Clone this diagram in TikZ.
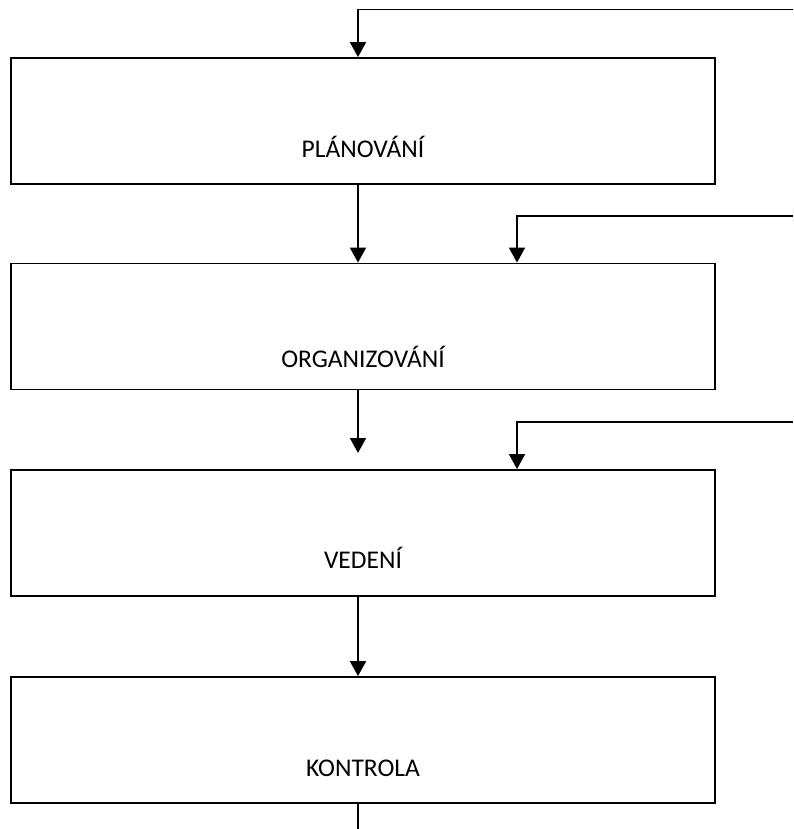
\documentclass[tikz,border=0pt]{standalone}
\usepackage{fontspec}
\setmainfont{Carlito}
\usetikzlibrary{arrows.meta,calc}

\begin{document}
\begin{tikzpicture}[
    x=1pt,y=-1pt,
    box/.style = { draw,line width=1.8pt,minimum width=704pt,minimum height=126pt,inner sep=0pt },
    lbl/.style = { anchor=base,font=\fontsize{25.5}{30}\selectfont },
    arrowstyle/.style = { -{Triangle[width=16pt,length=15pt]},line width=1.8pt }
    ]
    \useasboundingbox (0,0) rectangle (793,829);
    % Definitions
    \coordinate (plc)  at (363,121);
    \coordinate (orc)  at (363,326.5);
    \coordinate (vec)  at (363,533);
    \coordinate (koc)  at (363,740);
    \coordinate (in1)  at (793,9.5);
    \coordinate (in2)  at (793,216);
    \coordinate (in3)  at (793,422);
    \coordinate (gap)  at (358,453);
    \coordinate (out)  at (358,829);
    % Nodes
    \node(P) at (plc) [box] {};
    \node(O) at (orc) [box] {};
    \node(V) at (vec) [box] {};
    \node(K) at (koc) [box] {};
    \node(tP) at ($(P.south)+(0,-27)$) [lbl] {PLÁNOVÁNÍ};
    \node(tO) at ($(O.south)+(0,-23)$) [lbl] {ORGANIZOVÁNÍ};
    \node(tV) at ($(V.south)+(0,-28)$) [lbl] {VEDENÍ};
    \node(tK) at ($(K.south)+(0,-27)$) [lbl] {KONTROLA};
    % Arrows
    \draw[arrowstyle] (in1) -| ([xshift=-5pt]P.north);
    \draw[arrowstyle] ([xshift=-5pt]P.south) -- ([xshift=-5pt]O.north);
    \draw[arrowstyle] (in2) -| ([xshift=154pt]O.north);
    \draw[arrowstyle] ([xshift=-5pt]O.south) -- (gap);
    \draw[arrowstyle] (in3) -| ([xshift=154pt]V.north);
    \draw[arrowstyle] ([xshift=-5pt]V.south) -- ([xshift=-5pt]K.north);
    \draw[line width=1.8pt] ([xshift=-5pt]K.south) -- (out);
\end{tikzpicture}
\end{document}
